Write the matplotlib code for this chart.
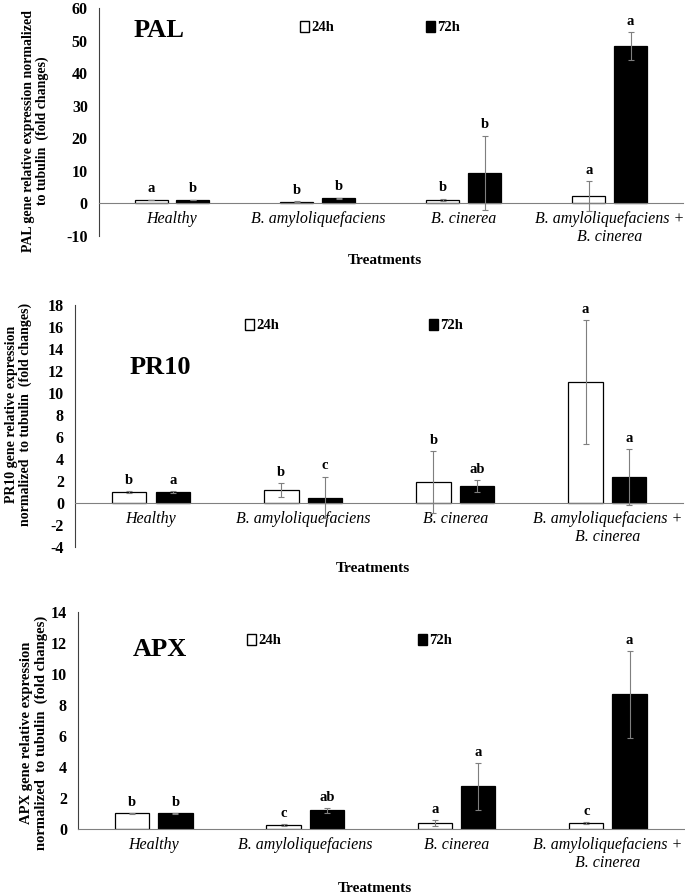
import matplotlib
matplotlib.use("Agg")
import matplotlib.pyplot as plt
from matplotlib.patches import Patch
import numpy as np

plt.rcParams['font.family'] = ['Liberation Serif', 'DejaVu Serif']
plt.rcParams['axes.unicode_minus'] = False

categories = ["Healthy", "B. amyloliquefaciens", "B. cinerea",
              "B. amyloliquefaciens +\nB. cinerea"]

# PAL
pal_24 = [1.0, 0.5, 1.0, 2.2]
pal_24_err = [0.1, 0.2, 0.4, 4.7]
pal_72 = [1.0, 1.5, 9.4, 48.3]
pal_72_err = [0.1, 0.2, 11.4, 4.2]
pal_24_let = ["a", "b", "b", "a"]
pal_72_let = ["b", "b", "b", "a"]

# PR10
pr10_24 = [1.0, 1.2, 1.9, 11.0]
pr10_24_err = [0.05, 0.65, 2.8, 5.6]
pr10_72 = [1.0, 0.5, 1.55, 2.35]
pr10_72_err = [0.05, 1.9, 0.55, 2.55]
pr10_24_let = ["b", "b", "b", "a"]
pr10_72_let = ["a", "c", "ab", "a"]

# APX
apx_24 = [1.0, 0.25, 0.38, 0.38]
apx_24_err = [0.02, 0.05, 0.17, 0.05]
apx_72 = [1.0, 1.2, 2.75, 8.7]
apx_72_err = [0.02, 0.15, 1.5, 2.8]
apx_24_let = ["b", "c", "a", "c"]
apx_72_let = ["b", "ab", "a", "a"]

fig = plt.figure(figsize=(6.85, 8.96), dpi=100)


def panel(rect, name, ylab, v24, e24, v72, e72, l24, l72, ylim, ystep,
          title_xy, leg_xy, colsp, labxy, labsize):
    ax = fig.add_axes(rect)
    ax.spines["top"].set_visible(False)
    ax.spines["right"].set_visible(False)
    ax.spines["bottom"].set_position(("data", 0))
    ax.spines["bottom"].set_color("#808080")
    ax.spines["left"].set_color("#404040")
    x = np.arange(len(categories))
    w = 0.226
    off = 0.143
    ax.bar(x - off, v24, w, color="white", edgecolor="black", linewidth=0.9, zorder=2)
    ax.bar(x + off, v72, w, color="black", edgecolor="black", linewidth=0.9, zorder=2)
    ax.errorbar(x - off, v24, yerr=e24, fmt="none", ecolor="#7f7f7f",
                elinewidth=0.8, capsize=2.5, capthick=0.8, zorder=3)
    ax.errorbar(x + off, v72, yerr=e72, fmt="none", ecolor="#7f7f7f",
                elinewidth=0.8, capsize=2.5, capthick=0.8, zorder=3)
    for i in range(len(categories)):
        ax.annotate(l24[i], (x[i] - off, v24[i] + e24[i]), xytext=(0, 3),
                    textcoords="offset points", ha="center", va="bottom",
                    fontsize=10.5, fontweight="bold")
        ax.annotate(l72[i], (x[i] + off, v72[i] + e72[i]), xytext=(0, 3),
                    textcoords="offset points", ha="center", va="bottom",
                    fontsize=10.5, fontweight="bold")
    ax.set_xlim(-0.5, len(categories) - 0.5)
    ax.set_ylim(ylim)
    ax.set_yticks(np.arange(ylim[0], ylim[1] + ystep / 2, ystep))
    ax.set_xticks(x)
    ax.set_xticklabels(categories, fontstyle="italic", fontsize=11.5,
                       linespacing=1.15)
    ax.tick_params(axis="both", length=0)
    ax.tick_params(axis="x", pad=6)
    ax.tick_params(axis="y", pad=8)
    for t in ax.get_yticklabels():
        t.set_fontweight("bold")
        t.set_fontsize(11.5)
    ax.set_ylabel(ylab, fontsize=labsize, fontweight="bold", linespacing=1.1)
    ax.yaxis.set_label_coords(labxy[0], labxy[1])
    ax.text(title_xy[0], title_xy[1], name, transform=ax.transAxes,
            fontsize=19, fontweight="bold", ha="left", va="center")
    handles = [Patch(facecolor="white", edgecolor="black", label="24h"),
               Patch(facecolor="black", edgecolor="black", label="72h")]
    ax.legend(handles=handles, ncol=2, frameon=False,
              loc="center left", bbox_to_anchor=leg_xy,
              handlelength=0.6, handleheight=0.8, handletextpad=0.15,
              columnspacing=colsp, borderaxespad=0,
              prop={"weight": "bold", "size": 10.5})
    return ax


ax1 = panel([0.1445, 0.737, 0.852, 0.254], "PAL",
            "PAL gene relative expression normalized\nto tubulin  (fold changes)",
            pal_24, pal_24_err, pal_72, pal_72_err, pal_24_let, pal_72_let,
            (-10, 60), 10, (0.06, 0.9), (0.335, 0.915), 6.3, (-0.085, 0.46), 10)
ax1.set_xlabel("Treatments", fontsize=11, fontweight="bold")
ax1.xaxis.set_label_coords(0.49, -0.08)

ax2 = panel([0.1095, 0.3895, 0.888, 0.270], "PR10",
            "PR10 gene relative expression\nnormalized  to tubulin  (fold changes)",
            pr10_24, pr10_24_err, pr10_72, pr10_72_err, pr10_24_let, pr10_72_let,
            (-4, 18), 2, (0.09, 0.74), (0.27, 0.915), 10.3, (-0.07, 0.55), 10)
ax2.set_xlabel("Treatments", fontsize=11, fontweight="bold")
ax2.xaxis.set_label_coords(0.49, -0.06)

ax3 = panel([0.114, 0.0748, 0.884, 0.242], "APX",
            "APX gene relative expression\nnormalized  to tubulin  (fold changes)",
            apx_24, apx_24_err, apx_72, apx_72_err, apx_24_let, apx_72_let,
            (0, 14), 2, (0.09, 0.83), (0.27, 0.87), 9.4, (-0.05, 0.445), 10.5)
ax3.set_xlabel("Treatments", fontsize=11, fontweight="bold")
ax3.xaxis.set_label_coords(0.49, -0.245)

fig.savefig("out.png", dpi=100)
